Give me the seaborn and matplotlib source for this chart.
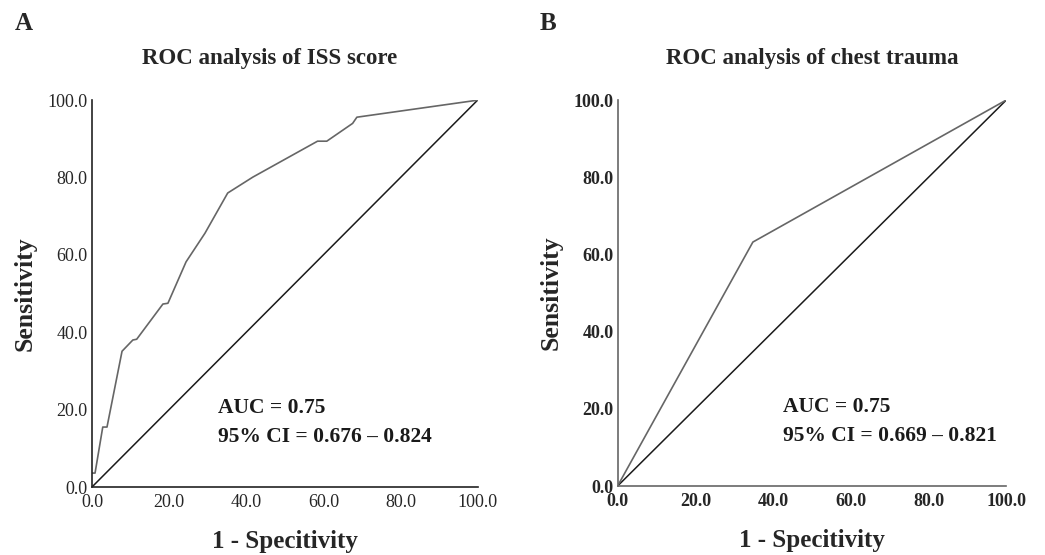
import matplotlib.pyplot as plt
import seaborn as sns
import pandas as pd

# ROC curve for the ISS score (1 - specificity, sensitivity), in percent
iss_fpr = [0.0, 0.8, 2.8, 3.9, 7.8, 10.6, 11.6, 18.4, 19.7, 24.4, 29.3, 35.2,
           41.7, 58.5, 60.9, 67.6, 68.7, 100.0]
iss_tpr = [3.6, 3.6, 15.5, 15.5, 35.1, 38.0, 38.2, 47.3, 47.5, 58.2, 65.6, 76.0,
           80.1, 89.4, 89.4, 94.0, 95.6, 100.0]

# ROC curve for chest trauma
chest_fpr = [0.0, 34.8, 100.0]
chest_tpr = [0.0, 63.2, 100.0]

# chance line
ref_x = [0.0, 100.0]
ref_y = [0.0, 100.0]

ticks = [0, 20, 40, 60, 80, 100]
tick_labels = ["0.0", "20.0", "40.0", "60.0", "80.0", "100.0"]

panels = [
    ("A", "ROC analysis of ISS score", iss_fpr, iss_tpr, "AUC = 0.75",
     "95% CI = 0.676 \u2013 0.824", "normal", "#222222", 0.326),
    ("B", "ROC analysis of chest trauma", chest_fpr, chest_tpr, "AUC = 0.75",
     "95% CI = 0.669 \u2013 0.821", "bold", "#666666", 0.425),
]

sns.set_theme(style="white")
plt.rcParams["font.family"] = ["Liberation Serif", "DejaVu Serif"]

fig = plt.figure(figsize=(10.45, 5.55), dpi=100)
axes = [fig.add_axes([0.088, 0.1225, 0.369, 0.697]),
        fig.add_axes([0.591, 0.1243, 0.372, 0.6955])]

for ax, (letter, title, fpr, tpr, auc, ci, tick_weight, spine_col, tx) in zip(axes, panels):
    roc = pd.DataFrame({"fpr": fpr, "tpr": tpr})
    ref = pd.DataFrame({"x": ref_x, "y": ref_y})
    sns.lineplot(data=ref, x="x", y="y", sort=False, color="#1a1a1a", lw=1.1, ax=ax)
    sns.lineplot(data=roc, x="fpr", y="tpr", sort=False, color="#666666", lw=1.2, ax=ax)

    ax.set_xlim(0, 100)
    ax.set_ylim(0, 100)
    ax.set_xticks(ticks)
    ax.set_yticks(ticks)
    ax.set_xticklabels(tick_labels, fontsize=13, fontweight=tick_weight)
    ax.set_yticklabels(tick_labels, fontsize=13, fontweight=tick_weight)
    ax.tick_params(axis="both", length=0, pad=3)
    ax.tick_params(axis="x", pad=5)
    for side in ["top", "right"]:
        ax.spines[side].set_visible(False)
    for side in ["left", "bottom"]:
        ax.spines[side].set_color(spine_col)
        ax.spines[side].set_linewidth(1.2)

    ax.set_xlabel("1 - Specitivity", fontsize=18, fontweight="bold", labelpad=14)
    ax.set_ylabel("Sensitivity", fontsize=18.5, fontweight="bold", labelpad=8)
    ax.text(tx, 0.205, auc, transform=ax.transAxes, fontsize=15.5, fontweight="bold",
            va="center", color="#1a1a1a")
    ax.text(tx, 0.13, ci, transform=ax.transAxes, fontsize=15.5, fontweight="bold",
            va="center", color="#1a1a1a")

fig.text(0.014, 0.958, "A", fontsize=18, fontweight="bold", va="center")
fig.text(0.516, 0.958, "B", fontsize=18, fontweight="bold", va="center")
fig.text(0.258, 0.895, panels[0][1], fontsize=16.5, fontweight="bold",
         ha="center", va="center")
fig.text(0.777, 0.895, panels[1][1], fontsize=16.5, fontweight="bold",
         ha="center", va="center")

fig.savefig("out.png", dpi=100)
